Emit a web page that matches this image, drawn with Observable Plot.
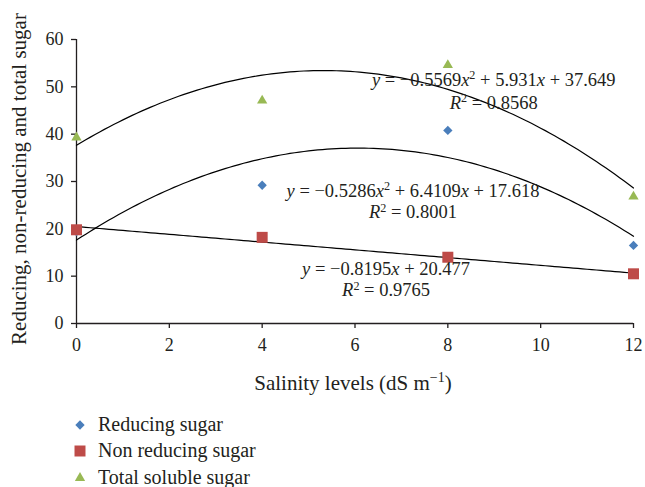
<!DOCTYPE html>
<html>
<head>
<meta charset="utf-8">
<script src="https://cdn.jsdelivr.net/npm/d3@7"></script>
<script src="https://cdn.jsdelivr.net/npm/@observablehq/plot@0.6"></script>
<style>
  html, body { margin: 0; padding: 0; background: #fff; }
  #chart svg { display: block; }
</style>
</head>
<body>
<div id="chart"></div>
<script>
// ---- Data ----
const salinity = [0, 4, 8, 12];
const reducingSugar = [19.4, 29.2, 40.8, 16.5];
const nonReducingSugar = [19.8, 18.2, 14.0, 10.5];
const totalSolubleSugar = [39.3, 47.1, 54.6, 26.8];

const seriesNames = ["Reducing sugar", "Non reducing sugar", "Total soluble sugar"];
const seriesColors = ["#4a7ebb", "#be4b48", "#98b954"];
const seriesSymbols = ["diamond2", "square2", "triangle2"];

const xTicks = [0, 2, 4, 6, 8, 10, 12];
const yTicks = [0, 10, 20, 30, 40, 50, 60];

// Trendline coefficients as printed on the chart: y = a x^2 + b x + c
const trendReducing = [-0.5286, 6.4109, 17.618];
const trendNonReducing = [0, -0.8195, 20.477];
const trendTotal = [-0.5569, 5.931, 37.649];
const r2Reducing = "0.8001";
const r2NonReducing = "0.9765";
const r2Total = "0.8568";

const xLabel = "Salinity levels (dS m";
const yLabel = "Reducing, non-reducing and total sugar";

// ---- Build tables ----
const seriesValues = [reducingSugar, nonReducingSugar, totalSolubleSugar];
const points = seriesValues.flatMap((vals, i) =>
  vals.map((v, j) => ({x: salinity[j], y: v, series: seriesNames[i]})));

const trendSpan = d3.range(0, 12.0001, 0.1);
function trendData(coefs, name) {
  return trendSpan.map(x => ({x, y: coefs[0] * x * x + coefs[1] * x + coefs[2], series: name}));
}
const trends = [
  trendData(trendTotal, "total"),
  trendData(trendReducing, "reducing"),
  trendData(trendNonReducing, "nonreducing")
].flat();

const FONT = "'Liberation Serif', 'DejaVu Serif', serif";
const ink = "#231f20";

const symbolR = {"diamond2": 4.2, "square2": 7, "triangle2": 4.9};

const plot = Plot.plot({
  width: 645,
  height: 487,
  marginLeft: 76,
  marginRight: 12,
  marginTop: 39,
  marginBottom: 164,
  style: {fontFamily: FONT, fontSize: "18px", color: ink, background: "#fff"},
  x: {domain: [0, 12]},
  y: {domain: [0, 60]},
  marks: [
    Plot.axisX({ticks: xTicks, tickSize: 5, tickPadding: 10, label: null, fontSize: 18, stroke: ink, strokeWidth: 1.3}),
    Plot.axisY({ticks: yTicks, tickSize: 5, tickPadding: 8, label: null, fontSize: 18, stroke: ink, strokeWidth: 1.3}),
    Plot.ruleY([0], {stroke: ink, strokeWidth: 1.3}),
    Plot.ruleX([0], {stroke: ink, strokeWidth: 1.3}),
    Plot.line(trends, {x: "x", y: "y", z: "series", stroke: "#000", strokeWidth: 1.2}),
    ...seriesNames.map((name, i) =>
      Plot.dot(points.filter(d => d.series === name), {
        x: "x", y: "y",
        symbol: () => seriesSymbols[i],
        fill: seriesColors[i],
        stroke: "none",
        r: symbolR[seriesSymbols[i]]
      }))
  ]
});

document.getElementById("chart").appendChild(plot);

// ---- Annotations (text with italics and superscripts) ----
const svg = d3.select(plot);
const sx = plot.scale("x"), sy = plot.scale("y");

function eqText(parent, cx, baseline, parts, size) {
  const t = parent.append("text")
    .attr("x", cx).attr("y", baseline)
    .attr("text-anchor", "middle")
    .attr("font-family", FONT)
    .attr("font-size", size)
    .attr("fill", ink);
  let shifted = false;
  for (const p of parts) {
    const s = t.append("tspan").text(p.t);
    if (p.i) s.attr("font-style", "italic");
    if (p.sup) {
      s.attr("font-size", size * 0.66).attr("dy", -size * 0.36);
      shifted = true;
    } else if (shifted) {
      s.attr("dy", size * 0.36);
      shifted = false;
    }
  }
  return t;
}

function fmt(v) { return String(v); }
function quadParts(c) {
  return [{t: "y", i: true}, {t: " = \u2212" + fmt(Math.abs(c[0]))}, {t: "x", i: true}, {t: "2", sup: true},
    {t: " + " + fmt(c[1])}, {t: "x", i: true}, {t: " + " + fmt(c[2])}];
}
function linParts(c) {
  return [{t: "y", i: true}, {t: " = \u2212" + fmt(Math.abs(c[1]))}, {t: "x", i: true}, {t: " + " + fmt(c[2])}];
}
function r2Parts(r) {
  return [{t: "R", i: true}, {t: "2", sup: true}, {t: " = " + r}];
}

const eqSize = 18.5;
const ann = svg.append("g");
// anchor positions in data units (x, y)
const eqTotalAt = [9.0, 50.1], r2TotalAt = [9.0, 45.2];
const eqRedAt = [7.26, 26.7], r2RedAt = [7.26, 22.1];
const eqNonAt = [6.68, 10.2], r2NonAt = [6.68, 5.6];
eqText(ann, sx.apply(eqTotalAt[0]), sy.apply(eqTotalAt[1]), quadParts(trendTotal), eqSize);
eqText(ann, sx.apply(r2TotalAt[0]), sy.apply(r2TotalAt[1]), r2Parts(r2Total), eqSize);
eqText(ann, sx.apply(eqRedAt[0]), sy.apply(eqRedAt[1]), quadParts(trendReducing), eqSize);
eqText(ann, sx.apply(r2RedAt[0]), sy.apply(r2RedAt[1]), r2Parts(r2Reducing), eqSize);
eqText(ann, sx.apply(eqNonAt[0]), sy.apply(eqNonAt[1]), linParts(trendNonReducing), eqSize);
eqText(ann, sx.apply(r2NonAt[0]), sy.apply(r2NonAt[1]), r2Parts(r2NonReducing), eqSize);

// Axis titles
const xt = svg.append("text")
  .attr("x", 353).attr("y", 390)
  .attr("text-anchor", "middle")
  .attr("font-family", FONT).attr("font-size", 21).attr("fill", ink);
xt.append("tspan").text(xLabel);
xt.append("tspan").text("\u22121").attr("font-size", 14).attr("dy", -8);
xt.append("tspan").text(")").attr("dy", 8);

svg.append("text")
  .attr("transform", "translate(26,179) rotate(-90)")
  .attr("text-anchor", "middle")
  .attr("font-family", FONT).attr("font-size", 21).attr("fill", ink)
  .text(yLabel);

// Legend (below the plot)
const legendRows = [425, 451, 478];
const leg = svg.append("g").attr("text-anchor", "start");
seriesNames.forEach((name, i) => {
  const r = symbolR[seriesSymbols[i]];
  const sym = {diamond2: d3.symbolDiamond2, square2: d3.symbolSquare2, triangle2: d3.symbolTriangle2}[seriesSymbols[i]];
  leg.append("path")
    .attr("d", d3.symbol(sym, Math.PI * r * r)())
    .attr("transform", `translate(80,${legendRows[i]})`)
    .attr("fill", seriesColors[i]);
  leg.append("text")
    .attr("x", 98).attr("y", legendRows[i] + 6)
    .attr("text-anchor", "start")
    .attr("font-family", FONT).attr("font-size", 20).attr("fill", ink)
    .text(name);
});
</script>
</body>
</html>
